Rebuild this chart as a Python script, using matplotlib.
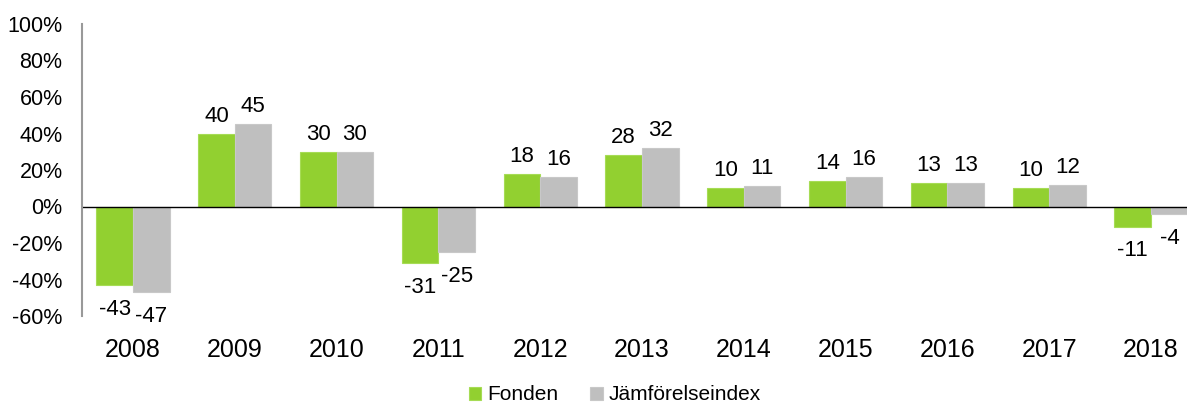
import matplotlib
matplotlib.use('Agg')
from matplotlib import pyplot as plt
import numpy as np

plt.rcParams['font.family'] = ['Liberation Sans', 'DejaVu Sans']

years = ['2008', '2009', '2010', '2011', '2012', '2013', '2014', '2015', '2016', '2017', '2018']
fonden = [-43, 40, 30, -31, 18, 28, 10, 14, 13, 10, -11]
index = [-47, 45, 30, -25, 16, 32, 11, 16, 13, 12, -4]
series_names = ['Fonden', 'Jämförelseindex']

green = '#92d030'
gray = '#bfbfbf'

fig = plt.figure(figsize=(11.87, 4.03), dpi=100)
ax = fig.add_axes([82 / 1187, 1 - 316 / 403, 1120 / 1187, 292 / 403])

x = np.arange(len(years))
w = 0.36
b1 = ax.bar(x - w / 2, fonden, w, color=green, edgecolor='#a6dc55', linewidth=0.8, label=series_names[0])
b2 = ax.bar(x + w / 2, index, w, color=gray, edgecolor='#c8c8c8', linewidth=0.8, label=series_names[1])

for bars, vals in [(b1, fonden), (b2, index)]:
    for bar, v in zip(bars, vals):
        cx = bar.get_x() + bar.get_width() / 2
        if v >= 0:
            ax.annotate(str(v), (cx, v), xytext=(0, 5), textcoords='offset points',
                        ha='center', va='bottom', fontsize=16)
        else:
            ax.annotate(str(v), (cx, v), xytext=(0, -10), textcoords='offset points',
                        ha='center', va='top', fontsize=16)

ax.axhline(0, color='black', linewidth=1)
ax.set_ylim(-60, 100)
ax.set_xlim(-0.5, 10.5)
ax.set_yticks(range(-60, 101, 20))
ax.set_yticklabels([f'{t}%' for t in range(-60, 101, 20)], fontsize=15.5)
ax.set_xticks(x)
ax.set_xticklabels(years, fontsize=18)
ax.tick_params(axis='both', length=0)
ax.tick_params(axis='x', pad=16)
ax.tick_params(axis='y', pad=14)
for s in ['top', 'right', 'bottom']:
    ax.spines[s].set_visible(False)
ax.spines['left'].set_color('#999999')
ax.spines['left'].set_linewidth(1.5)

fig.legend(handles=[b1, b2], labels=series_names, loc='center', bbox_to_anchor=(615 / 1187, 1 - 395 / 403),
           ncol=2, frameon=False, fontsize=15, handlelength=0.6, handleheight=0.6,
           handletextpad=0.3, columnspacing=1.5)

fig.savefig('out.png', dpi=100)
